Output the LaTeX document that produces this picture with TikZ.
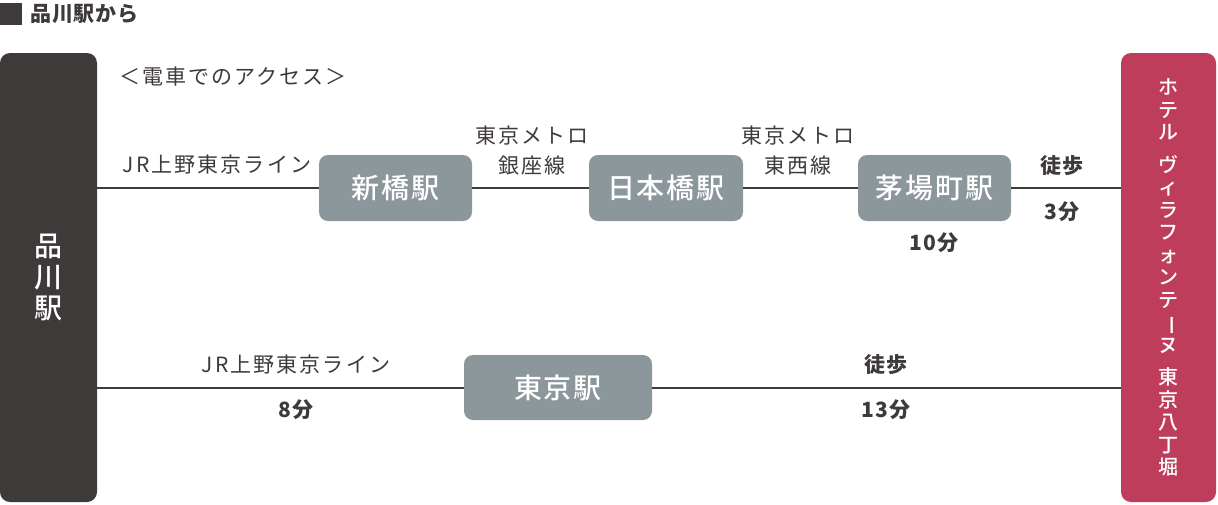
\documentclass[tikz,border=0pt]{standalone}
\usepackage{fontspec}
\setmainfont{Noto Sans CJK JP}
\newfontfamily\boxfont{Noto Sans CJK JP Medium}
\usetikzlibrary{positioning}
\definecolor{custom-dark}{RGB}{62, 58, 57}
\definecolor{custom-gray}{RGB}{140, 151, 156}
\definecolor{custom-red}{RGB}{190, 61, 90}
\tikzset{
  station/.style={fill=custom-gray, rounded corners=9pt, text=white, inner sep=0pt,
    minimum height=66pt, font=\boxfont\fontsize{28}{30}\selectfont\addfontfeature{LetterSpace=7}},
  endbox/.style={rounded corners=10pt, text=white, inner sep=0pt, align=center,
    minimum height=449pt},
  label/.style={text=custom-dark, inner sep=0pt, align=center,
    font=\fontsize{21}{30}\selectfont\addfontfeature{LetterSpace=10}},
  boldlabel/.style={label, font=\fontsize{21}{30}\selectfont\bfseries\addfontfeature{LetterSpace=4}},
  route/.style={draw=custom-dark, line width=2pt},
}
\begin{document}
\begin{tikzpicture}[x=1pt, y=-1pt]
\useasboundingbox (0,0) rectangle (1218,504);
% heading
\fill[custom-dark] (0,3) rectangle (22,25);
\node[boldlabel, anchor=west] (heading) at (30,14) {品川駅から};
\node[label] (access) at (233,77) {＜電車でのアクセス＞};
% start and goal
\node[endbox, fill=custom-dark, minimum width=97pt,
  font=\boxfont\fontsize{28}{31}\selectfont] (shinagawa) at (48.5,277.5) {品\\川\\駅};
\node[endbox, fill=custom-red, minimum width=95pt,
  font=\boxfont\fontsize{20}{22.5}\selectfont] (hotel) at (1168.5,277.5)
  {ホ\\テ\\ル\\[10pt]ヴ\\ィ\\ラ\\フ\\ォ\\ン\\テ\\\rotatebox[origin=c]{-90}{ー}\\ヌ\\[10pt]東\\京\\八\\丁\\堀};
% stations
\node[station, minimum width=153pt] (shinbashi) at (395.5,188) {新橋駅};
\node[station, minimum width=154pt] (nihonbashi) at (666,188) {日本橋駅};
\node[station, minimum width=153pt] (kayabacho) at (934.5,188) {茅場町駅};
\node[station, minimum width=188pt, minimum height=65pt] (tokyo) at (558,387.5) {東京駅};
% routes
\draw[route] (shinagawa.east |- shinbashi) -- (shinbashi);
\draw[route] (shinbashi) -- (nihonbashi);
\draw[route] (nihonbashi) -- (kayabacho);
\draw[route] (kayabacho) -- (kayabacho -| hotel.west);
\draw[route] (shinagawa.east |- tokyo) -- (tokyo);
\draw[route] (tokyo) -- (tokyo -| hotel.west);
% labels
\node[label] (jrtop) at (217,165) {JR上野東京ライン};
\node[label] (ginza) at (532,151) {東京メトロ\\銀座線};
\node[label] (tozai) at (798,151) {東京メトロ\\東西線};
\node[boldlabel] (walktop) at (1062,166) {徒歩};
\node[boldlabel] (mintop) at (1062,212) {3分};
\node[boldlabel] (minkaya) at (934,243) {10分};
\node[label] (jrbottom) at (296,365) {JR上野東京ライン};
\node[boldlabel] (minjr) at (296,410) {8分};
\node[boldlabel] (walkbottom) at (886,365) {徒歩};
\node[boldlabel] (minbottom) at (886,410) {13分};
\end{tikzpicture}
\end{document}
